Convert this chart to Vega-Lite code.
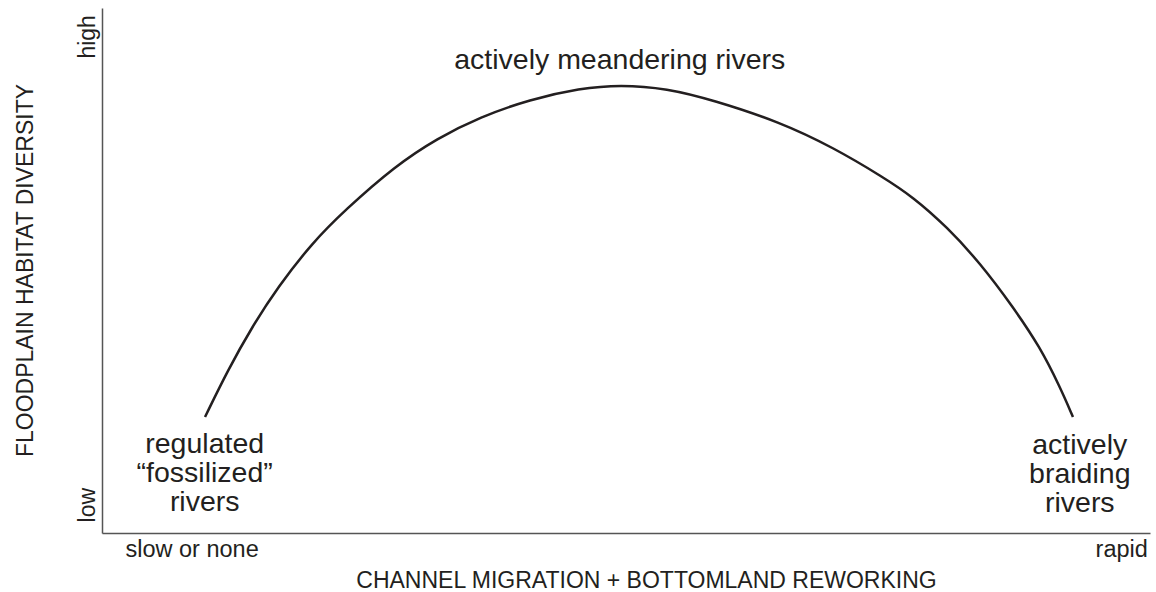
{
  "$schema": "https://vega.github.io/schema/vega-lite/v6.json",
  "autosize": {"type": "none"},
  "padding": {"left": 102, "top": 8, "right": 6, "bottom": 59},
  "width": 1048,
  "height": 525,
  "background": "white",
  "config": {
    "view": {"stroke": null},
    "font": "Liberation Sans",
    "text": {"font": "Liberation Sans", "color": "#231f20"}
  },
  "datasets": {
    "curve": [
      {"x": 9.83, "y": 22.1},
      {"x": 12.02, "y": 31.05},
      {"x": 14.31, "y": 39.24},
      {"x": 16.79, "y": 46.86},
      {"x": 20.04, "y": 55.24},
      {"x": 23.19, "y": 61.52},
      {"x": 27.96, "y": 69.9},
      {"x": 32.0, "y": 75.2},
      {"x": 36.07, "y": 79.24},
      {"x": 40.84, "y": 82.6},
      {"x": 45.61, "y": 84.7},
      {"x": 49.43, "y": 85.4},
      {"x": 53.91, "y": 84.7},
      {"x": 58.3, "y": 82.48},
      {"x": 64.69, "y": 78.29},
      {"x": 69.8, "y": 73.4},
      {"x": 74.52, "y": 67.8},
      {"x": 77.39, "y": 64.0},
      {"x": 80.63, "y": 58.29},
      {"x": 83.78, "y": 51.43},
      {"x": 86.93, "y": 43.05},
      {"x": 89.5, "y": 35.43},
      {"x": 91.41, "y": 27.81},
      {"x": 92.65, "y": 22.1}
    ],
    "labels": [
      {"kind": "big", "text": "actively meandering rivers", "x": 49.4, "y": 90.1},
      {"kind": "big", "text": "regulated", "x": 9.8, "y": 17.0},
      {"kind": "big", "text": "“fossilized”", "x": 9.8, "y": 11.5},
      {"kind": "big", "text": "rivers", "x": 9.8, "y": 6.0},
      {"kind": "big", "text": "actively", "x": 93.3, "y": 16.8},
      {"kind": "big", "text": "braiding", "x": 93.3, "y": 11.3},
      {"kind": "big", "text": "rivers", "x": 93.3, "y": 5.8},
      {"kind": "end", "text": "slow or none", "x": 8.6, "y": -3.3},
      {"kind": "end", "text": "rapid", "x": 97.3, "y": -3.3},
      {"kind": "side", "text": "high", "x": -1.34, "y": 94.5},
      {"kind": "side", "text": "low", "x": -1.34, "y": 5.3}
    ]
  },
  "layer": [
    {
      "data": {"name": "curve"},
      "mark": {"type": "line", "color": "#231f20", "strokeWidth": 2.5, "interpolate": "basis"},
      "encoding": {
        "x": {
          "field": "x", "type": "quantitative",
          "scale": {"domain": [0, 100], "nice": false, "zero": false},
          "axis": {
            "title": "CHANNEL MIGRATION + BOTTOMLAND REWORKING",
            "labels": false, "ticks": false, "grid": false, "domain": true,
            "domainColor": "#555555", "domainWidth": 1.5,
            "titleFont": "Liberation Sans", "titleFontSize": 23, "titleFontWeight": "normal",
            "titleColor": "#231f20",
            "titleX": 544, "titleY": 47, "titleAlign": "center", "titleBaseline": "middle"
          }
        },
        "y": {
          "field": "y", "type": "quantitative",
          "scale": {"domain": [0, 100], "nice": false, "zero": false},
          "axis": {
            "title": "FLOODPLAIN HABITAT DIVERSITY",
            "labels": false, "ticks": false, "grid": false, "domain": true,
            "domainColor": "#555555", "domainWidth": 1.5,
            "titleFont": "Liberation Sans", "titleFontSize": 23, "titleFontWeight": "normal",
            "titleColor": "#231f20",
            "titleX": -77, "titleY": 262, "titleAngle": 270, "titleAlign": "center", "titleBaseline": "middle"
          }
        }
      }
    },
    {
      "data": {"name": "labels"},
      "transform": [{"filter": "datum.kind === 'big'"}],
      "mark": {"type": "text", "fontSize": 28.5, "align": "center", "baseline": "middle"},
      "encoding": {
        "x": {"field": "x", "type": "quantitative"},
        "y": {"field": "y", "type": "quantitative"},
        "text": {"field": "text"}
      }
    },
    {
      "data": {"name": "labels"},
      "transform": [{"filter": "datum.kind === 'end'"}],
      "mark": {"type": "text", "fontSize": 23.5, "align": "center", "baseline": "middle"},
      "encoding": {
        "x": {"field": "x", "type": "quantitative"},
        "y": {"field": "y", "type": "quantitative"},
        "text": {"field": "text"}
      }
    },
    {
      "data": {"name": "labels"},
      "transform": [{"filter": "datum.kind === 'side'"}],
      "mark": {"type": "text", "fontSize": 23, "align": "center", "baseline": "middle", "angle": 270},
      "encoding": {
        "x": {"field": "x", "type": "quantitative"},
        "y": {"field": "y", "type": "quantitative"},
        "text": {"field": "text"}
      }
    }
  ]
}
